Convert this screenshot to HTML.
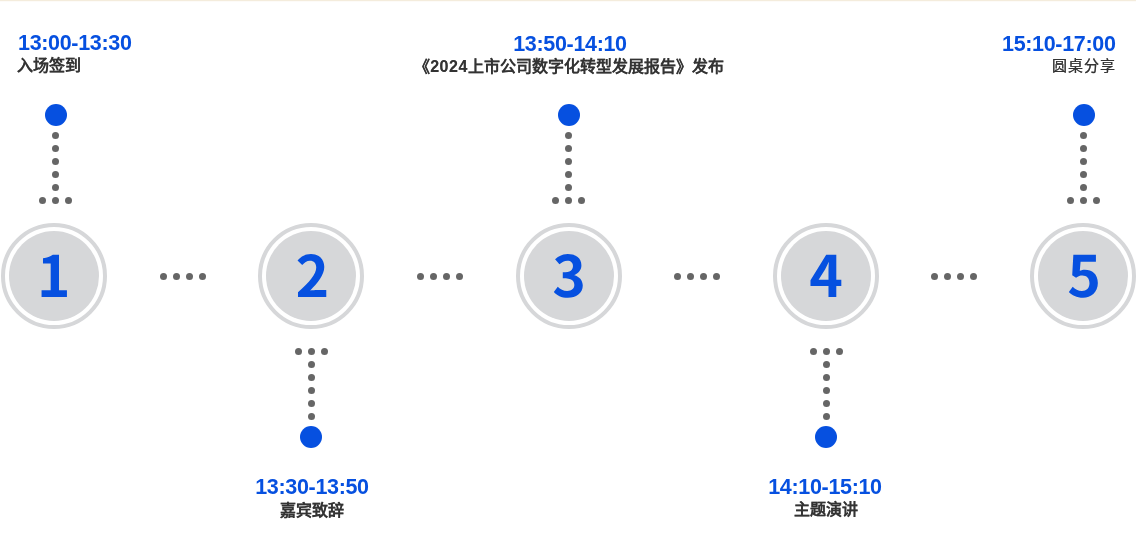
<!DOCTYPE html>
<html lang="zh-CN"><head><meta charset="utf-8"><style>
html,body{margin:0;padding:0;width:1136px;height:560px;overflow:hidden;background:#fff;font-family:"Liberation Sans",sans-serif}
.top{position:absolute;left:0;top:0;width:1136px;height:1px;background:#f4ecdc;box-shadow:0 1px 0 #fdfbf8}
i{position:absolute;border-radius:50%;display:block}
.c{position:absolute;top:223px;width:98px;height:98px;border:4px solid #d6d7d9;border-radius:50%}
.ci{position:absolute;left:4px;top:4px;width:90px;height:90px;border-radius:50%;background:#d6d7d9}
.dg{position:absolute;left:0;top:0}
.t{position:absolute;white-space:nowrap;font-weight:bold;will-change:transform}
.tm{color:#0650e0;font-size:21.5px;line-height:24px;letter-spacing:-0.33px}
.ti{color:#333333;font-size:16px;line-height:20px;text-shadow:0 0 0.6px rgba(51,51,51,.6)}
</style></head><body>
<div class="top"></div>
<i style="left:45px;top:104px;width:22px;height:22px;background:#0650e0"></i><i style="left:52px;top:132px;width:7px;height:7px;background:#666666"></i><i style="left:52px;top:145px;width:7px;height:7px;background:#666666"></i><i style="left:52px;top:158px;width:7px;height:7px;background:#666666"></i><i style="left:52px;top:171px;width:7px;height:7px;background:#666666"></i><i style="left:52px;top:184px;width:7px;height:7px;background:#666666"></i><i style="left:52px;top:197px;width:7px;height:7px;background:#666666"></i><i style="left:39px;top:197px;width:7px;height:7px;background:#666666"></i><i style="left:65px;top:197px;width:7px;height:7px;background:#666666"></i><i style="left:558px;top:104px;width:22px;height:22px;background:#0650e0"></i><i style="left:565px;top:132px;width:7px;height:7px;background:#666666"></i><i style="left:565px;top:145px;width:7px;height:7px;background:#666666"></i><i style="left:565px;top:158px;width:7px;height:7px;background:#666666"></i><i style="left:565px;top:171px;width:7px;height:7px;background:#666666"></i><i style="left:565px;top:184px;width:7px;height:7px;background:#666666"></i><i style="left:565px;top:197px;width:7px;height:7px;background:#666666"></i><i style="left:552px;top:197px;width:7px;height:7px;background:#666666"></i><i style="left:578px;top:197px;width:7px;height:7px;background:#666666"></i><i style="left:1073px;top:104px;width:22px;height:22px;background:#0650e0"></i><i style="left:1080px;top:132px;width:7px;height:7px;background:#666666"></i><i style="left:1080px;top:145px;width:7px;height:7px;background:#666666"></i><i style="left:1080px;top:158px;width:7px;height:7px;background:#666666"></i><i style="left:1080px;top:171px;width:7px;height:7px;background:#666666"></i><i style="left:1080px;top:184px;width:7px;height:7px;background:#666666"></i><i style="left:1080px;top:197px;width:7px;height:7px;background:#666666"></i><i style="left:1067px;top:197px;width:7px;height:7px;background:#666666"></i><i style="left:1093px;top:197px;width:7px;height:7px;background:#666666"></i><i style="left:300px;top:426px;width:22px;height:22px;background:#0650e0"></i><i style="left:308px;top:348px;width:7px;height:7px;background:#666666"></i><i style="left:308px;top:361px;width:7px;height:7px;background:#666666"></i><i style="left:308px;top:374px;width:7px;height:7px;background:#666666"></i><i style="left:308px;top:387px;width:7px;height:7px;background:#666666"></i><i style="left:308px;top:400px;width:7px;height:7px;background:#666666"></i><i style="left:308px;top:413px;width:7px;height:7px;background:#666666"></i><i style="left:295px;top:348px;width:7px;height:7px;background:#666666"></i><i style="left:321px;top:348px;width:7px;height:7px;background:#666666"></i><i style="left:815px;top:426px;width:22px;height:22px;background:#0650e0"></i><i style="left:823px;top:348px;width:7px;height:7px;background:#666666"></i><i style="left:823px;top:361px;width:7px;height:7px;background:#666666"></i><i style="left:823px;top:374px;width:7px;height:7px;background:#666666"></i><i style="left:823px;top:387px;width:7px;height:7px;background:#666666"></i><i style="left:823px;top:400px;width:7px;height:7px;background:#666666"></i><i style="left:823px;top:413px;width:7px;height:7px;background:#666666"></i><i style="left:810px;top:348px;width:7px;height:7px;background:#666666"></i><i style="left:836px;top:348px;width:7px;height:7px;background:#666666"></i><i style="left:160px;top:273px;width:7px;height:7px;background:#666666"></i><i style="left:173px;top:273px;width:7px;height:7px;background:#666666"></i><i style="left:186px;top:273px;width:7px;height:7px;background:#666666"></i><i style="left:199px;top:273px;width:7px;height:7px;background:#666666"></i><i style="left:417px;top:273px;width:7px;height:7px;background:#666666"></i><i style="left:430px;top:273px;width:7px;height:7px;background:#666666"></i><i style="left:443px;top:273px;width:7px;height:7px;background:#666666"></i><i style="left:456px;top:273px;width:7px;height:7px;background:#666666"></i><i style="left:674px;top:273px;width:7px;height:7px;background:#666666"></i><i style="left:687px;top:273px;width:7px;height:7px;background:#666666"></i><i style="left:700px;top:273px;width:7px;height:7px;background:#666666"></i><i style="left:713px;top:273px;width:7px;height:7px;background:#666666"></i><i style="left:931px;top:273px;width:7px;height:7px;background:#666666"></i><i style="left:944px;top:273px;width:7px;height:7px;background:#666666"></i><i style="left:957px;top:273px;width:7px;height:7px;background:#666666"></i><i style="left:970px;top:273px;width:7px;height:7px;background:#666666"></i>
<div class="c" style="left:1px" role="img" aria-label="1"><div class="ci"></div></div><div class="c" style="left:258.25px" role="img" aria-label="2"><div class="ci"></div></div><div class="c" style="left:515.5px" role="img" aria-label="3"><div class="ci"></div></div><div class="c" style="left:772.75px" role="img" aria-label="4"><div class="ci"></div></div><div class="c" style="left:1030px" role="img" aria-label="5"><div class="ci"></div></div><svg class="dg" width="1136" height="560" viewBox="0 0 1136 560" aria-hidden="true"><g fill="#0650e0"><path transform="translate(36.89 297) scale(0.057 -0.057)" d="M82 0H527V120H388V741H279C232 711 182 692 107 679V587H242V120H82Z"/><path transform="translate(295.54 297) scale(0.057 -0.057)" d="M43 0H539V124H379C344 124 295 120 257 115C392 248 504 392 504 526C504 664 411 754 271 754C170 754 104 715 35 641L117 562C154 603 198 638 252 638C323 638 363 592 363 519C363 404 245 265 43 85Z"/><path transform="translate(552.34 297) scale(0.057 -0.057)" d="M273 -14C415 -14 534 64 534 200C534 298 470 360 387 383V388C465 419 510 477 510 557C510 684 413 754 270 754C183 754 112 719 48 664L124 573C167 614 210 638 263 638C326 638 362 604 362 546C362 479 318 433 183 433V327C343 327 386 282 386 209C386 143 335 106 260 106C192 106 139 139 95 182L26 89C78 30 157 -14 273 -14Z"/><path transform="translate(809.28 297) scale(0.057 -0.057)" d="M337 0H474V192H562V304H474V741H297L21 292V192H337ZM337 304H164L279 488C300 528 320 569 338 609H343C340 565 337 498 337 455Z"/><path transform="translate(1067.36 297) scale(0.057 -0.057)" d="M277 -14C412 -14 535 81 535 246C535 407 432 480 307 480C273 480 247 474 218 460L232 617H501V741H105L85 381L152 338C196 366 220 376 263 376C337 376 388 328 388 242C388 155 334 106 257 106C189 106 136 140 94 181L26 87C82 32 159 -14 277 -14Z"/></g></svg>
<div class="t tm" style="left:18px;top:31px">13:00-13:30</div>
<div class="t ti" style="left:17px;top:56px">入场签到</div>
<div class="t tm" style="left:370px;width:400px;text-align:center;top:32px">13:50-14:10</div>
<div class="t ti" style="left:369px;width:400px;text-align:center;top:56.5px">《<span style="letter-spacing:0.5px">2024</span>上市公司数字化转型发展报告》发布</div>
<div class="t tm" style="right:20px;top:32px">15:10-17:00</div>
<div class="t ti" style="right:20.5px;top:56px;font-weight:normal;font-size:15px;letter-spacing:1px;-webkit-text-stroke:0.2px #333">圆桌分享</div>
<div class="t tm" style="left:112px;width:400px;text-align:center;top:475px">13:30-13:50</div>
<div class="t ti" style="left:112px;width:400px;text-align:center;top:500.5px">嘉宾致辞</div>
<div class="t tm" style="left:625px;width:400px;text-align:center;top:475px">14:10-15:10</div>
<div class="t ti" style="left:625.5px;width:400px;text-align:center;top:500px">主题演讲</div>
</body></html>
